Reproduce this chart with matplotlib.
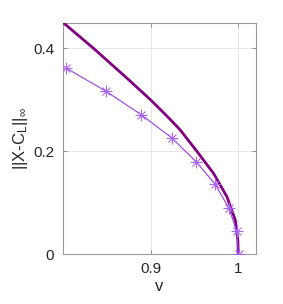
import matplotlib
matplotlib.use("Agg")
import matplotlib.pyplot as plt

plt.rcParams['font.family'] = ['Liberation Sans', 'DejaVu Sans']
plt.rcParams['mathtext.fontset'] = 'custom'
plt.rcParams['mathtext.rm'] = 'Liberation Sans'
plt.rcParams['mathtext.it'] = 'Liberation Sans'

# thick curve
v_curve = [0.799, 0.8337, 0.8721, 0.8989, 0.9103, 0.9218, 0.9333, 0.9525,
           0.9716, 0.987, 0.9966, 0.9995, 1.0]
e_curve = [0.449, 0.3994, 0.3415, 0.300, 0.281, 0.2615, 0.241, 0.1995,
           0.1567, 0.1113, 0.066, 0.027, 0.0]

# marked series
v_pts = [0.8015, 0.8483, 0.8885, 0.9234, 0.9517, 0.9736, 0.9893, 0.9981, 1.0003]
e_pts = [0.3618, 0.3159, 0.2706, 0.2259, 0.1793, 0.1353, 0.0887, 0.0453, 0.0]

xticks = [0.9, 1.0]
xticklabels = ['0.9', '1']
yticks = [0, 0.2, 0.4]
yticklabels = ['0', '0.2', '0.4']

fig = plt.figure(figsize=(2.83, 3.04), dpi=100)
ax = fig.add_axes([0.221, 0.164, 0.684, 0.760])

ax.plot(v_curve, e_curve, color='#800080', lw=2.0, zorder=3,
        solid_joinstyle='round')
ax.plot(v_pts, e_pts, color='#9a3fe6', lw=0.8, marker='+', ms=8, mew=0.8,
        mec='#a866f0', zorder=4)
ax.plot(v_pts, e_pts, linestyle='none', marker='x', ms=5.5, mew=0.8,
        mec='#a866f0', zorder=4)

ax.set_xlim(0.798, 1.0205)
ax.set_ylim(0, 0.4485)
ax.set_xticks(xticks)
ax.set_xticklabels(xticklabels)
ax.set_yticks(yticks)
ax.set_yticklabels(yticklabels)
ax.grid(True, color='#e6e6e6', lw=0.7)
ax.set_axisbelow(True)
ax.tick_params(direction='in', top=True, right=True, length=3, width=0.6,
               colors='#808080', labelcolor='#262626', labelsize=11, pad=6)
for s in ax.spines.values():
    s.set_color('#9a9a9a')
    s.set_linewidth(0.8)

ax.set_xlabel('v', fontsize=12, color='#262626', labelpad=2)
ax.set_ylabel(r'||X-C$_\mathregular{L}$||$_\infty$', fontsize=12, color='#262626', labelpad=2)

fig.savefig('out.png', dpi=100)
